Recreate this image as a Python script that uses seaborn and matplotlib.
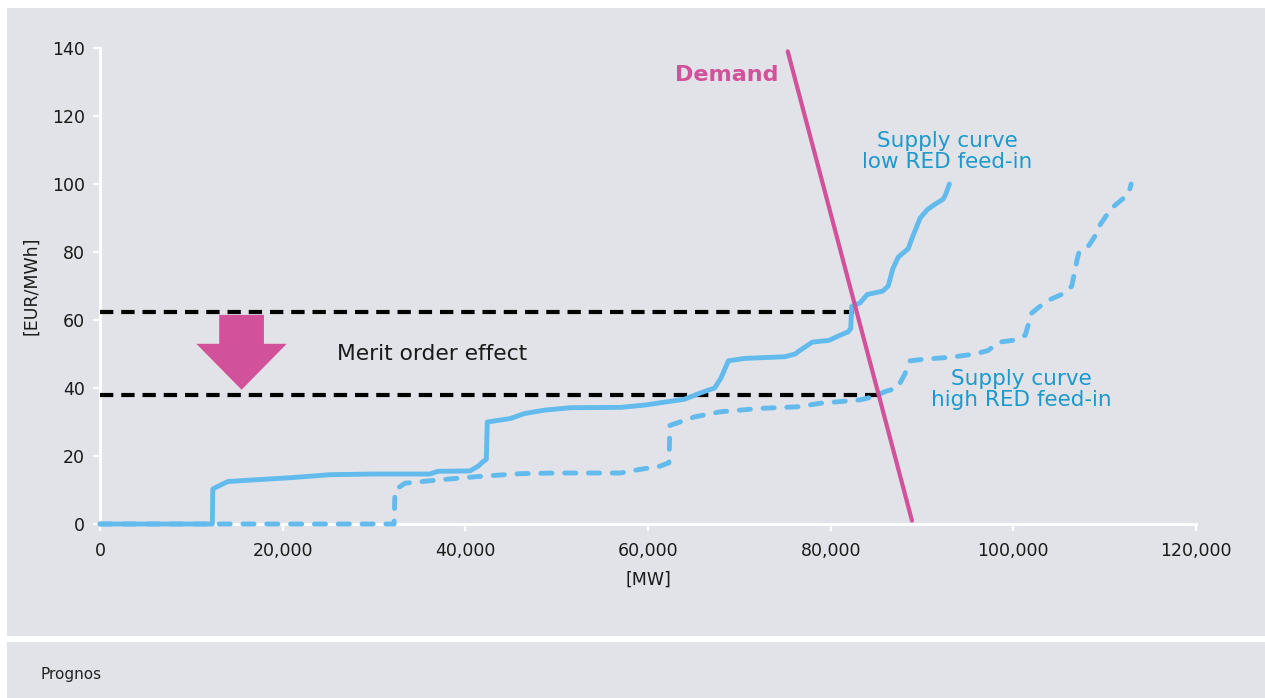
import matplotlib
matplotlib.use("Agg")
import matplotlib.pyplot as plt
import seaborn as sns
import pandas as pd
from matplotlib.patches import Rectangle, FancyArrow

# ---- data ----
low_x = [0, 12300, 12350, 13000, 14000, 17000, 20800, 25200, 30000, 36100, 37000, 40500,
         41400, 42000, 42300, 42400, 44900, 46500, 48700, 51500, 57000, 59700, 62200,
         64000, 65700, 67300, 68000, 68800, 70600, 75000, 76100, 76600, 78000, 79800,
         81000, 81900, 82200, 82300, 83200, 84000, 85700, 86300, 86800, 87400, 88500,
         88900, 89500, 89800, 90600, 91400, 92300, 92600, 93000]
low_y = [0, 0, 10.3, 11.2, 12.5, 13.0, 13.6, 14.5, 14.7, 14.7, 15.5, 15.6,
         17.0, 18.5, 19.0, 30.0, 31.0, 32.5, 33.5, 34.2, 34.3, 35.0, 36.0,
         36.7, 38.5, 40.0, 43.0, 48.0, 48.7, 49.2, 50.0, 51.0, 53.5, 54.0,
         55.5, 56.5, 57.5, 64.0, 65.0, 67.5, 68.5, 70.0, 75.0, 78.5, 81.0,
         84.0, 88.0, 90.0, 92.5, 94.0, 95.5, 97.0, 100.0]

high_x = [0, 32200, 32300, 33400, 37200, 41600, 46000, 50000, 57000, 59000, 61300,
          62300, 62400, 63500, 65100, 67900, 72300, 76600, 78800, 81000, 83200,
          84800, 86000, 87300, 88100, 88700, 90300, 93000, 95800, 97200, 98500,
          99900, 101300, 102000, 102900, 104000, 105700, 106400, 107000, 107200,
          108300, 108900, 109500, 110000, 110800, 111700, 112600, 112900]
high_y = [0, 0, 10.0, 12.0, 13.0, 14.0, 14.8, 15.0, 15.0, 16.0, 17.0,
          18.0, 29.0, 30.0, 31.5, 33.0, 34.0, 34.5, 35.5, 36.0, 36.5,
          37.5, 39.0, 40.0, 44.0, 48.0, 48.5, 49.0, 50.0, 51.0, 53.5,
          54.0, 55.5, 62.0, 64.0, 66.0, 68.0, 70.0, 78.0, 80.0,
          82.0, 84.5, 88.0, 90.0, 93.0, 95.0, 97.0, 100.0]

demand_x = [75300, 88900]
demand_y = [139, 1]

price_low_red = 62.5    # market price with low RED feed-in
price_high_red = 38.0   # market price with high RED feed-in
price_low_end_x = 82500
price_high_end_x = 85500

x_ticks = [0, 20000, 40000, 60000, 80000, 100000, 120000]
y_ticks = [0, 20, 40, 60, 80, 100, 120, 140]

# ---- style ----
BG = "#e2e3e8"
LINE_BLUE = "#62bbec"
TEXT_BLUE = "#1b9acb"
PINK = "#d1529a"

sns.set_theme(style="dark", rc={
    "axes.facecolor": BG,
    "figure.facecolor": "white",
    "axes.edgecolor": "white",
    "xtick.color": "white",
    "ytick.color": "white",
    "xtick.labelcolor": "#1a1a1a",
    "ytick.labelcolor": "#1a1a1a",
})
plt.rcParams["font.family"] = ["DejaVu Sans"]

fig = plt.figure(figsize=(12.65, 6.98), dpi=100)
# gray panels
fig.patches.append(Rectangle((7 / 1265, 1 - 636 / 698), 1 - 7 / 1265, (636 - 8) / 698,
                             transform=fig.transFigure, facecolor=BG, edgecolor="none", zorder=-5))
fig.patches.append(Rectangle((7 / 1265, 0), 1 - 7 / 1265, (698 - 642) / 698,
                             transform=fig.transFigure, facecolor=BG, edgecolor="none", zorder=-5))

ax = fig.add_axes([100 / 1265, 1 - 524 / 698, (1196 - 100) / 1265, (524 - 48) / 698])
ax.set_zorder(2)
ax.set_facecolor(BG)

low_df = pd.DataFrame({"MW": low_x, "price": low_y})
high_df = pd.DataFrame({"MW": high_x, "price": high_y})
dem_df = pd.DataFrame({"MW": demand_x, "price": demand_y})

sns.lineplot(data=low_df, x="MW", y="price", ax=ax, sort=False, estimator=None,
             color=LINE_BLUE, lw=3.5, solid_capstyle="round", solid_joinstyle="round",
             clip_on=False, zorder=4)
sns.lineplot(data=high_df, x="MW", y="price", ax=ax, sort=False, estimator=None,
             color=LINE_BLUE, lw=3.5, linestyle=(0, (2.3, 2.6)), dash_capstyle="round",
             clip_on=False, zorder=4)
sns.lineplot(data=dem_df, x="MW", y="price", ax=ax, sort=False, estimator=None,
             color=PINK, lw=3.0, clip_on=False, zorder=5)

ax.hlines([price_low_red], 0, price_low_end_x, colors="black", lw=3.0,
          linestyles=[(0, (3.2, 1.9))], zorder=3)
ax.hlines([price_high_red], 0, price_high_end_x, colors="black", lw=3.0,
          linestyles=[(0, (3.2, 1.9))], zorder=3)

# merit order arrow (annotation)
arrow_x, arrow_top, arrow_tip = 15500, 61.5, 39.5
ax.add_patch(FancyArrow(arrow_x, arrow_top, 0, arrow_tip - arrow_top, width=4900,
                        head_width=9900, head_length=13.5, length_includes_head=True,
                        color=PINK, lw=0, zorder=6))

ax.set_xlim(0, 120000)
ax.set_ylim(0, 140)
ax.set_xticks(x_ticks)
ax.set_xticklabels([f"{v:,}" for v in x_ticks], fontsize=12.5)
ax.set_yticks(y_ticks)
ax.set_yticklabels([str(v) for v in y_ticks], fontsize=12.5)
ax.tick_params(axis="both", length=5, width=1.6, direction="out", bottom=True, left=True, pad=6)
ax.tick_params(axis="x", pad=8)
for s in ["top", "right"]:
    ax.spines[s].set_visible(False)
for s in ["left", "bottom"]:
    ax.spines[s].set_color("white")
    ax.spines[s].set_linewidth(2)
ax.grid(False)

ax.set_xlabel("[MW]", fontsize=12.5, color="#1a1a1a", labelpad=8)
ax.set_ylabel("[EUR/MWh]", fontsize=12.5, color="#1a1a1a", labelpad=8)

ax.text(74300, 132, "Demand", color=PINK, fontsize=16, fontweight="bold",
        ha="right", va="center")
ax.text(92800, 109.5, "Supply curve\nlow RED feed-in", color=TEXT_BLUE, fontsize=15.5,
        ha="center", va="center", linespacing=1.05)
ax.text(100900, 39.5, "Supply curve\nhigh RED feed-in", color=TEXT_BLUE, fontsize=15.5,
        ha="center", va="center", linespacing=1.05)
ax.text(26000, 50, "Merit order effect", color="#1a1a1a", fontsize=15.7,
        ha="left", va="center")

fig.text(40 / 1265, 1 - 675 / 698, "Prognos", fontsize=11, color="#222222",
         ha="left", va="center")

fig.savefig("out.png", dpi=100)
